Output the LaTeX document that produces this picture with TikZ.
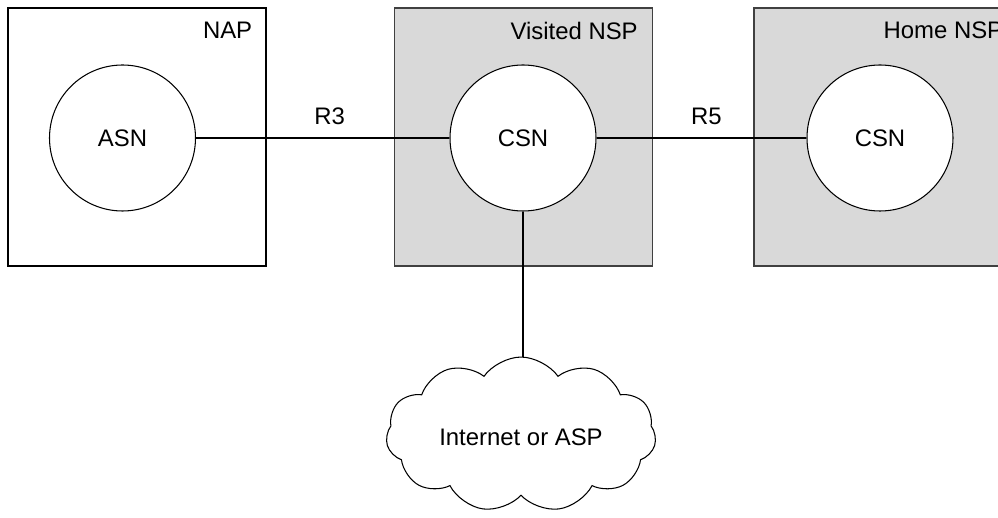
\documentclass[tikz,border=0pt]{standalone}
\usepackage{fontspec}
\setmainfont{Liberation Sans}
\usetikzlibrary{shapes.symbols,positioning}
\definecolor{nspgray}{RGB}{217,217,217}

\begin{document}
\begin{tikzpicture}[font=\fontsize{13.6}{16}\selectfont,
netbox/.style={rectangle, draw=black, line width=0.6pt, minimum width=5.16cm, minimum height=5.16cm, inner sep=0pt},
nspbox/.style={netbox, draw=black!75, fill=nspgray},
gw/.style={circle, draw=black, fill=white, line width=0.6pt, minimum size=2.92cm, inner sep=0pt},
tag/.style={anchor=north east, inner sep=0pt},
link/.style={line width=0.6pt, black}]

\useasboundingbox (0,0) rectangle (19.96,10.36);
\clip (0,0) rectangle (19.96,10.36);

\node[netbox] (nap) at (2.74,7.62) {};
\node[tag] (naplbl) at ([xshift=-0.28cm,yshift=-0.28cm]nap.north east) {NAP};

\node[nspbox] (visited) at (10.47,7.62) {};
\node[tag] (visitedlbl) at ([xshift=-0.3cm,yshift=-0.28cm]visited.north east) {Visited NSP};

\node[nspbox] (home) at (17.66,7.62) {};
\node[tag] (homelbl) at ([xshift=-0.18cm,yshift=-0.28cm]home.north east) {Home NSP};

\node[gw] (asn) at (2.45,7.60) {ASN};
\node[gw] (vcsn) at (10.46,7.60) {CSN};
\node[gw] (hcsn) at (17.60,7.60) {CSN};

\node[cloud, draw=black, line width=0.6pt, cloud puffs=11, cloud puff arc=110, minimum width=5.4cm, minimum height=3.1cm, below=2.9cm of vcsn.south, anchor=north, xshift=-0.04cm,
label={[yshift=-0.06cm]center:Internet or ASP}] (net) {};

\draw[link] (asn) -- node[above=0.14cm, xshift=0.14cm] {R3} (vcsn);
\draw[link] (vcsn) -- node[above=0.14cm, xshift=0.1cm] {R5} (hcsn);
\draw[link] (vcsn) -- (vcsn |- net.north);

\end{tikzpicture}
\end{document}
